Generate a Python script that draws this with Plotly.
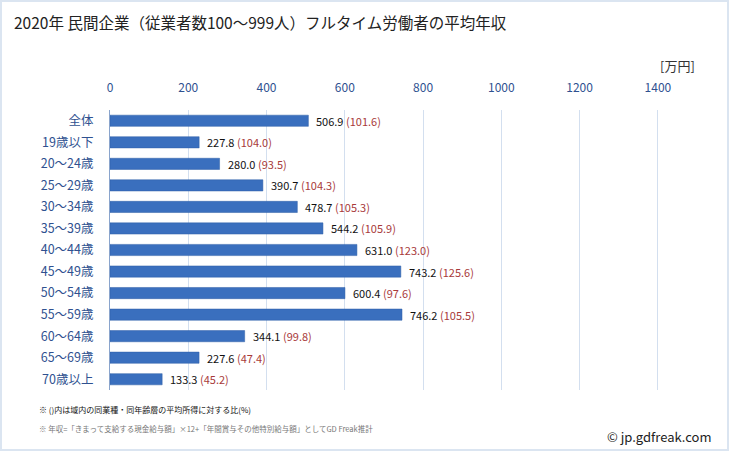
import plotly.graph_objects as go

categories = ["全体", "19歳以下", "20～24歳", "25～29歳", "30～34歳", "35～39歳",
              "40～44歳", "45～49歳", "50～54歳", "55～59歳", "60～64歳",
              "65～69歳", "70歳以上"]
values = [506.9, 227.8, 280.0, 390.7, 478.7, 544.2, 631.0, 743.2, 600.4,
          746.2, 344.1, 227.6, 133.3]
ratios = [101.6, 104.0, 93.5, 104.3, 105.3, 105.9, 123.0, 125.6, 97.6,
          105.5, 99.8, 47.4, 45.2]
tick_vals = [0, 200, 400, 600, 800, 1000, 1200, 1400]

W, H = 729, 451
L, R, T, B = 110, 32, 110, 61
PW, PH = W - L - R, H - T - B

FONT = "Noto Sans CJK JP, Noto Sans, sans-serif"

fig = go.Figure()
fig.add_trace(go.Bar(
    x=values, y=categories, orientation="h",
    marker=dict(color="#3a6fbe", line=dict(color="#2f5fa6", width=0.5)),
    width=0.52, hoverinfo="skip",
))

for c, v, r in zip(categories, values, ratios):
    fig.add_annotation(
        x=v, y=c, xref="x", yref="y", xanchor="left", yanchor="middle",
        xshift=6, showarrow=False,
        text=f"{v:.1f} <span style='color:#a83a3a'>({r:.1f})</span>",
        font=dict(size=11, color="#111111", family=FONT),
    )

def px(x):
    return (x - L) / PW

def py(y):
    return (H - B - y) / PH

fig.add_shape(type="rect", xref="paper", yref="paper",
              x0=px(1), x1=px(W - 1), y0=py(H - 1), y1=py(1),
              line=dict(color="#dbe5f1", width=2), layer="below")

fig.add_annotation(xref="paper", yref="paper", x=px(12), y=py(22),
                   xanchor="left", yanchor="middle", showarrow=False,
                   text="2020年 民間企業（従業者数100～999人）フルタイム労働者の平均年収",
                   font=dict(size=15.5, color="#222222", family=FONT))
fig.add_annotation(xref="paper", yref="paper", x=px(697), y=py(66),
                   xanchor="right", yanchor="middle", showarrow=False,
                   text="[万円]", font=dict(size=13, color="#333333", family=FONT))
fig.add_annotation(xref="paper", yref="paper", x=px(37), y=py(409),
                   xanchor="left", yanchor="middle", showarrow=False,
                   text="※ ()内は域内の同業種・同年齢層の平均所得に対する比(%)",
                   font=dict(size=8, color="#111111", family=FONT))
fig.add_annotation(xref="paper", yref="paper", x=px(37), y=py(428),
                   xanchor="left", yanchor="middle", showarrow=False,
                   text="※ 年収=「きまって支給する現金給与額」×12+「年間賞与その他特別給与額」としてGD Freak推計",
                   font=dict(size=7.5, color="#777777", family=FONT))
fig.add_annotation(xref="paper", yref="paper", x=px(714), y=py(436),
                   xanchor="right", yanchor="middle", showarrow=False,
                   text="© jp.gdfreak.com",
                   font=dict(size=13, color="#222222", family=FONT))

fig.update_layout(
    width=W, height=H,
    margin=dict(l=L, r=R, t=T, b=B),
    paper_bgcolor="white", plot_bgcolor="white",
    showlegend=False, bargap=0.48,
    font=dict(family=FONT),
    xaxis=dict(
        side="top", range=[0, 1500], tickvals=tick_vals,
        ticktext=[str(t) for t in tick_vals],
        showgrid=True, gridcolor="#d3dfef", gridwidth=1,
        zeroline=False, showline=False,
        ticks="outside", ticklen=12, tickcolor="rgba(0,0,0,0)",
        tickfont=dict(size=12, color="#2f5190", family=FONT),
        fixedrange=True,
    ),
    yaxis=dict(
        autorange="reversed", categoryorder="array", categoryarray=categories,
        showgrid=False, zeroline=False,
        showline=True, linecolor="#8aa4cc", linewidth=1,
        ticks="outside", ticklen=13, tickcolor="rgba(0,0,0,0)",
        tickfont=dict(size=12.5, color="#2f5190", family=FONT),
        fixedrange=True,
    ),
)

fig.write_html("out.html")
